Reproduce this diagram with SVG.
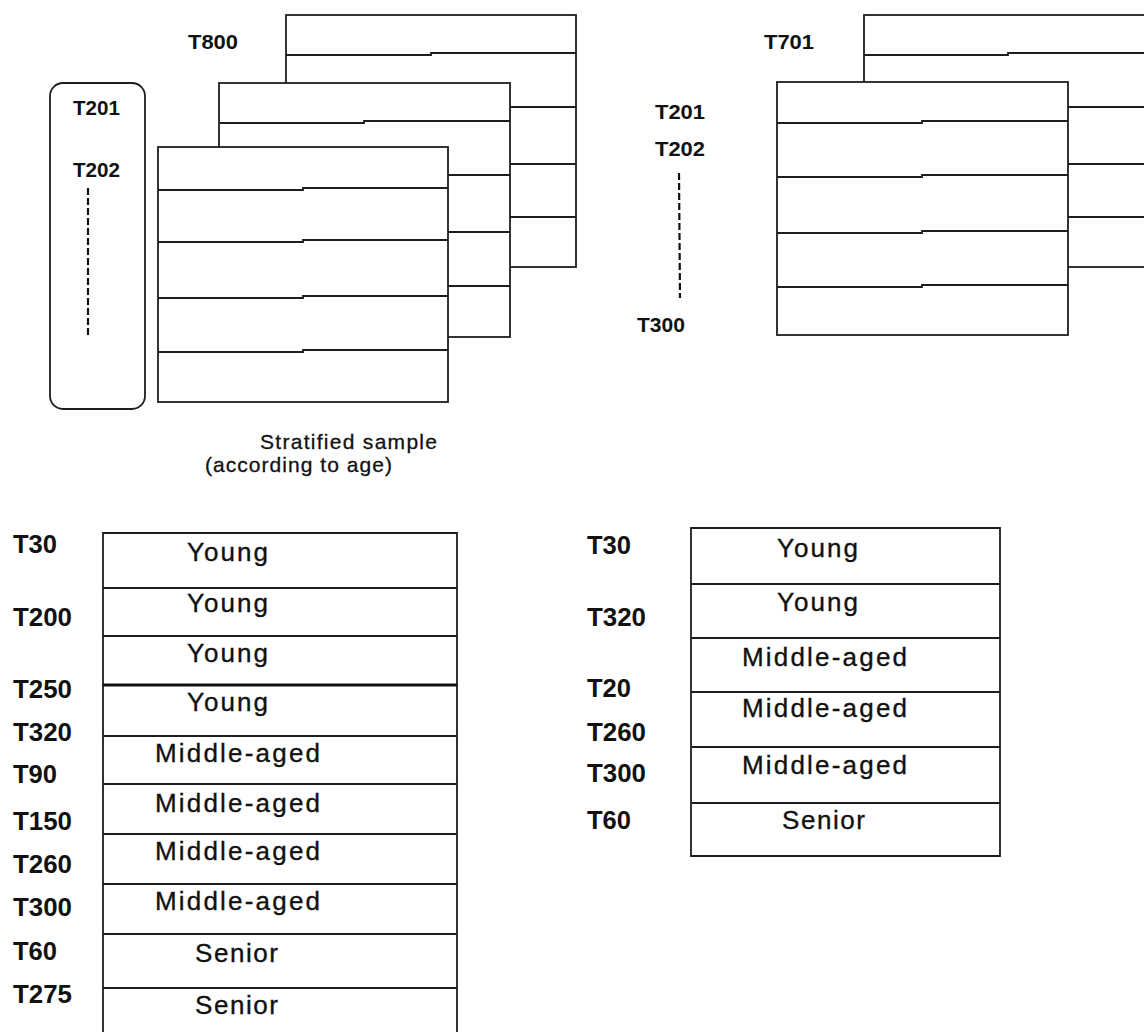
<svg xmlns="http://www.w3.org/2000/svg" width="1144" height="1032" viewBox="0 0 1144 1032">
<style>
.ln{fill:none;stroke:#1e1e1e;stroke-width:1.8}
.box{fill:#fff;stroke:#1e1e1e;stroke-width:1.8}
.lbl{font-family:"Liberation Sans",Arial,sans-serif;font-weight:bold;fill:#111}
.sm{font-size:20px}
.bg{font-size:26px}
.cell{font-family:"Liberation Sans",Arial,sans-serif;font-size:26px;fill:#111;stroke:#111;stroke-width:0.35}
.cap{font-family:"Liberation Sans",Arial,sans-serif;font-size:21px;fill:#111;stroke:#111;stroke-width:0.3}
.dash{fill:none;stroke:#111;stroke-width:2.2;stroke-dasharray:7 3}
</style>
<rect width="1144" height="1032" fill="#fff"/>

<g id="population-left">
  <rect class="box" x="50" y="83" width="95" height="326" rx="13"/>
  <text class="lbl sm" x="73" y="115" textLength="47" lengthAdjust="spacingAndGlyphs">T201</text>
  <text class="lbl sm" x="73" y="177" textLength="47" lengthAdjust="spacingAndGlyphs">T202</text>
  <line class="dash" x1="88" y1="188" x2="88" y2="337"/>
</g>

<g id="stack-left">
  <text class="lbl sm" x="188" y="49" textLength="50" lengthAdjust="spacingAndGlyphs">T800</text>
  <g id="sheet-back-left">
    <rect class="box" x="286" y="15" width="290" height="252"/>
    <path class="ln" d="M286 55H431V53H576M286 107H576M286 164H576M286 217H576"/>
  </g>
  <g id="sheet-mid-left">
    <rect class="box" x="219" y="83" width="291" height="254"/>
    <path class="ln" d="M219 123H364V121H510M219 175H510M219 232H510M219 286H510"/>
  </g>
  <g id="sheet-front-left">
    <rect class="box" x="158" y="147" width="290" height="255"/>
    <path class="ln" d="M158 190H303V188H448M158 242H303V240H448M158 298H303V296H448M158 352H303V350H448"/>
  </g>
</g>

<g id="stack-right">
  <text class="lbl sm" x="764" y="49" textLength="50" lengthAdjust="spacingAndGlyphs">T701</text>
  <text class="lbl sm" x="655" y="119" textLength="50" lengthAdjust="spacingAndGlyphs">T201</text>
  <text class="lbl sm" x="655" y="156" textLength="50" lengthAdjust="spacingAndGlyphs">T202</text>
  <line class="dash" x1="679" y1="173" x2="680" y2="298"/>
  <text class="lbl sm" x="637" y="332" textLength="48" lengthAdjust="spacingAndGlyphs">T300</text>
  <g id="sheet-back-right">
    <rect class="box" x="864" y="15" width="400" height="252"/>
    <path class="ln" d="M864 55H1008V53H1164M864 107H1164M864 164H1164M864 217H1164"/>
  </g>
  <g id="sheet-front-right">
    <rect class="box" x="777" y="82" width="291" height="253"/>
    <path class="ln" d="M777 123H922V121H1068M777 177H922V175H1068M777 233H922V231H1068M777 287H922V285H1068"/>
  </g>
</g>

<g id="caption">
  <text class="cap" x="260" y="449" textLength="177" lengthAdjust="spacing">Stratified sample</text>
  <text class="cap" x="205" y="472" textLength="187" lengthAdjust="spacing">(according to age)</text>
</g>

<g id="table-left">
  <path class="ln" d="M103 1034V533H457V1034M103 588H457M103 636H457M103 736H457M103 784H457M103 834H457M103 884H457M103 934H457M103 988H457"/>
  <line x1="103" y1="685" x2="457" y2="685" stroke="#111" stroke-width="3"/>
  <text class="lbl bg" x="13" y="553" textLength="44" lengthAdjust="spacingAndGlyphs">T30</text>
  <text class="lbl bg" x="13" y="626" textLength="59" lengthAdjust="spacingAndGlyphs">T200</text>
  <text class="lbl bg" x="13" y="698" textLength="59" lengthAdjust="spacingAndGlyphs">T250</text>
  <text class="lbl bg" x="13" y="741" textLength="59" lengthAdjust="spacingAndGlyphs">T320</text>
  <text class="lbl bg" x="13" y="783" textLength="44" lengthAdjust="spacingAndGlyphs">T90</text>
  <text class="lbl bg" x="13" y="830" textLength="59" lengthAdjust="spacingAndGlyphs">T150</text>
  <text class="lbl bg" x="13" y="873" textLength="59" lengthAdjust="spacingAndGlyphs">T260</text>
  <text class="lbl bg" x="13" y="916" textLength="59" lengthAdjust="spacingAndGlyphs">T300</text>
  <text class="lbl bg" x="13" y="960" textLength="44" lengthAdjust="spacingAndGlyphs">T60</text>
  <text class="lbl bg" x="13" y="1003" textLength="59" lengthAdjust="spacingAndGlyphs">T275</text>
  <text class="cell" x="187" y="561" textLength="81" lengthAdjust="spacing">Young</text>
  <text class="cell" x="187" y="612" textLength="81" lengthAdjust="spacing">Young</text>
  <text class="cell" x="187" y="662" textLength="81" lengthAdjust="spacing">Young</text>
  <text class="cell" x="187" y="711" textLength="81" lengthAdjust="spacing">Young</text>
  <text class="cell" x="155" y="762" textLength="165" lengthAdjust="spacing">Middle-aged</text>
  <text class="cell" x="155" y="812" textLength="165" lengthAdjust="spacing">Middle-aged</text>
  <text class="cell" x="155" y="860" textLength="165" lengthAdjust="spacing">Middle-aged</text>
  <text class="cell" x="155" y="910" textLength="165" lengthAdjust="spacing">Middle-aged</text>
  <text class="cell" x="195" y="962" textLength="83" lengthAdjust="spacing">Senior</text>
  <text class="cell" x="195" y="1014" textLength="83" lengthAdjust="spacing">Senior</text>
</g>

<g id="table-right">
  <path class="ln" d="M691 528H1000V856H691ZM691 584H1000M691 638H1000M691 692H1000M691 747H1000M691 803H1000"/>
  <text class="lbl bg" x="587" y="554" textLength="44" lengthAdjust="spacingAndGlyphs">T30</text>
  <text class="lbl bg" x="587" y="626" textLength="59" lengthAdjust="spacingAndGlyphs">T320</text>
  <text class="lbl bg" x="587" y="697" textLength="44" lengthAdjust="spacingAndGlyphs">T20</text>
  <text class="lbl bg" x="587" y="741" textLength="59" lengthAdjust="spacingAndGlyphs">T260</text>
  <text class="lbl bg" x="587" y="782" textLength="59" lengthAdjust="spacingAndGlyphs">T300</text>
  <text class="lbl bg" x="587" y="829" textLength="44" lengthAdjust="spacingAndGlyphs">T60</text>
  <text class="cell" x="777" y="557" textLength="81" lengthAdjust="spacing">Young</text>
  <text class="cell" x="777" y="611" textLength="81" lengthAdjust="spacing">Young</text>
  <text class="cell" x="742" y="666" textLength="165" lengthAdjust="spacing">Middle-aged</text>
  <text class="cell" x="742" y="717" textLength="165" lengthAdjust="spacing">Middle-aged</text>
  <text class="cell" x="742" y="774" textLength="165" lengthAdjust="spacing">Middle-aged</text>
  <text class="cell" x="782" y="829" textLength="83" lengthAdjust="spacing">Senior</text>
</g>
</svg>
